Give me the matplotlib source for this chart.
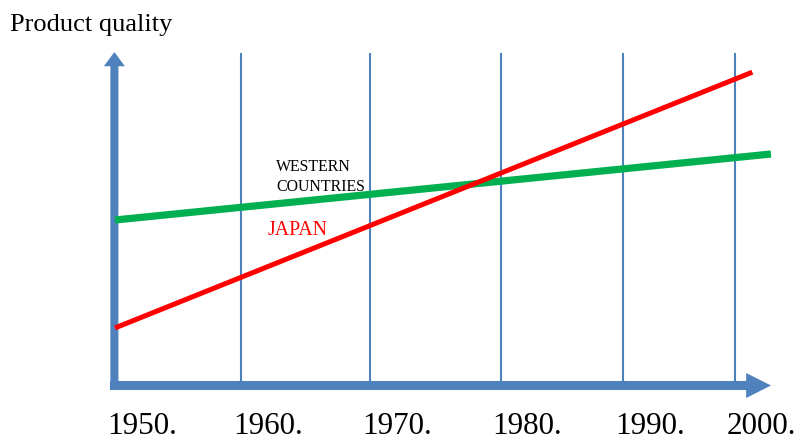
import matplotlib
matplotlib.use("Agg")
import matplotlib.pyplot as plt
import matplotlib.transforms as mtransforms
from matplotlib.patches import FancyArrow

# decade markers (drawn by hand in the original, so slightly uneven)
decade_labels = ["1950.", "1960.", "1970.", "1980.", "1990.", "2000."]
decade_positions = [1950.0, 1960.2, 1970.6, 1981.1, 1991.0, 2000.0]

# quality trend lines (start / end)
japan_years = [1950.0, 2001.4]
japan_quality = [17.3, 94.8]
western_years = [1950.0, 2002.9]
western_quality = [50.0, 70.0]

AXIS_BLUE = "#4F81BD"
SERIF = ["Liberation Serif", "DejaVu Serif"]

fig = plt.figure(figsize=(8.04, 4.38), dpi=100)
ax = fig.add_axes([0, 0, 1, 1])
ax.set_xlim(1940.726, 2005.565)
ax.set_ylim(-16.06, 116.67)
ax.axis("off")

# vertical decade lines
for x in decade_positions[1:]:
    ax.plot([x, x], [0, 100.3], color=AXIS_BLUE, lw=1.5, zorder=1)

# axes drawn as thick arrows
x0 = decade_positions[0]
ax.add_patch(FancyArrow(x0 - 0.05, -1.5, 0, 102.4, width=0.65,
                        head_width=1.7, head_length=4.3,
                        length_includes_head=True, color=AXIS_BLUE, lw=0, zorder=3))
ax.add_patch(FancyArrow(x0 - 0.4, -0.15, 53.3, 0, width=2.75,
                        head_width=7.6, head_length=2.0,
                        length_includes_head=True, color=AXIS_BLUE, lw=0, zorder=3))

# trend lines
ax.plot(western_years, western_quality, color="#00B050", lw=5.2,
        solid_capstyle="butt", zorder=4)
ax.plot(japan_years, japan_quality, color="#FF0000", lw=3.6,
        solid_capstyle="butt", zorder=5)

ax.text(1963.0, 58.8, "WESTERN\nCOUNTRIES", family=SERIF, fontsize=11.4,
        color="black", ha="left", va="baseline", linespacing=1.3, zorder=6)
ax.text(1962.3, 45.5, "JAPAN", family=SERIF, fontsize=14.3,
        color="#FF0000", ha="left", va="baseline", zorder=6)

# decade labels, left-aligned just before each line
offset = mtransforms.offset_copy(ax.transData, fig=fig, x=-8, y=0, units="dots")
for x, lab in zip(decade_positions, decade_labels):
    ax.text(x, -14.7, lab, family=SERIF, fontsize=22.4, color="black",
            ha="left", va="baseline", transform=offset)

fig.text(10 / 804, 1 - 31 / 438, "Product quality", family=SERIF,
         fontsize=19, color="black", ha="left", va="baseline")

fig.savefig("out.png", dpi=100)
